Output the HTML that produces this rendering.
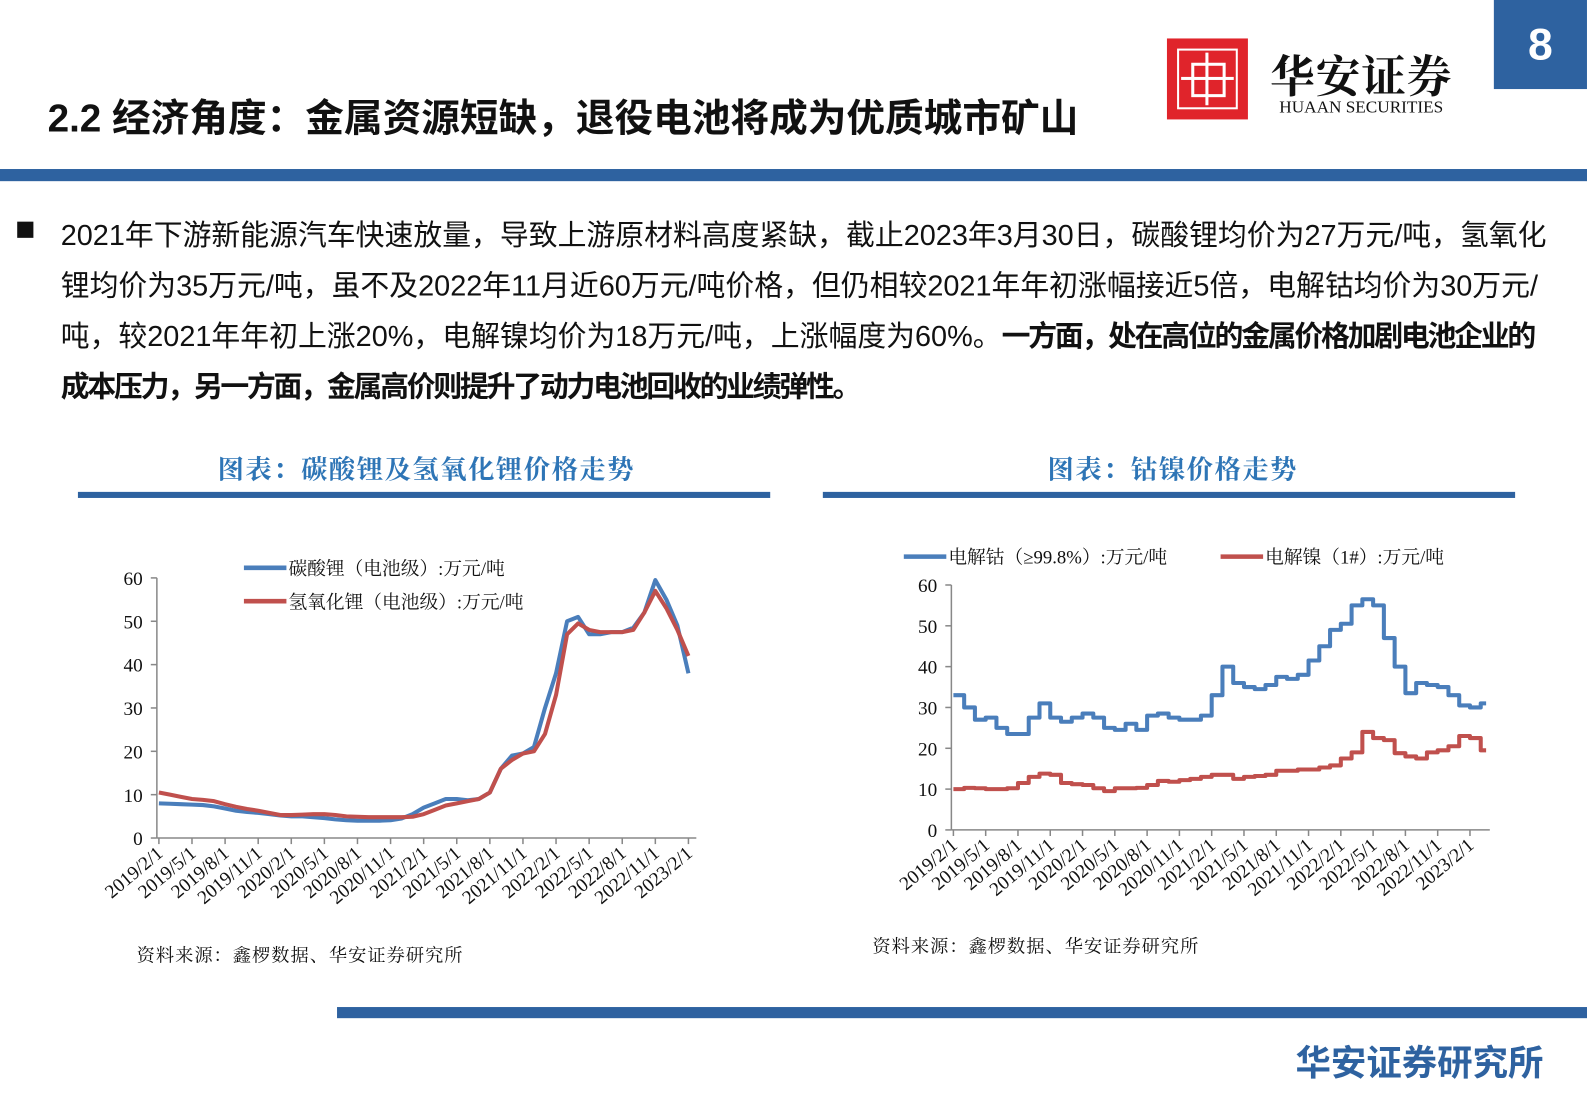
<!DOCTYPE html>
<html><head><meta charset="utf-8"><style>
body{margin:0;background:#fff;}
#page{position:relative;width:1587px;height:1099px;overflow:hidden;background:#fff;font-family:"Liberation Sans","Noto Sans CJK SC",sans-serif;}
#inner{position:absolute;left:0;top:0;width:1568px;height:1086px;transform:scale(1.0121);transform-origin:0 0;}
.abs{position:absolute;}
.body-line{position:absolute;left:60px;font-size:28.5px;color:#111;white-space:nowrap;}
.body-line b{letter-spacing:-2.2px;}
.ctitle{position:absolute;font-family:"Liberation Serif","Noto Serif CJK SC",serif;font-size:26px;font-weight:bold;color:#2e75b6;letter-spacing:1.5px;white-space:nowrap;}
</style></head><body>
<div id="page"><div id="inner">
<div class="abs" style="left:47px;top:87px;font-size:38.2px;font-weight:bold;color:#111;white-space:nowrap;">2.2 经济角度：金属资源短缺，退役电池将成为优质城市矿山</div>
<div class="abs" style="left:1153px;top:38px;width:80px;height:80px;background:#e0242b;">
<div style="position:absolute;left:10px;top:10px;width:56px;height:56px;border:2px solid #fff;"></div>
<div style="position:absolute;left:24px;top:24px;width:28px;height:28px;border:3px solid #fff;"></div>
<div style="position:absolute;left:38px;top:14px;width:3px;height:52px;background:#fff;"></div>
<div style="position:absolute;left:14px;top:38px;width:52px;height:3px;background:#fff;"></div>
</div>
<div class="abs" style="left:1255px;top:40px;font-family:'Noto Serif CJK SC',serif;font-size:44px;font-weight:bold;color:#111;letter-spacing:1px;">华安证券</div>
<div class="abs" style="left:1264px;top:96px;font-family:'Liberation Serif',serif;font-size:17px;color:#111;">HUAAN SECURITIES</div>
<div class="abs" style="left:1476px;top:0;width:92px;height:88px;background:#2e62a0;color:#fff;font-size:44px;font-weight:bold;text-align:center;line-height:90px;">8</div>
<div class="abs" style="left:0;top:167px;width:1587px;height:12px;background:#2e62a0;"></div>
<div class="abs" style="left:17px;top:219px;width:16px;height:16px;background:#111;"></div>
<div class="body-line" style="top:210px;">2021年下游新能源汽车快速放量，导致上游原材料高度紧缺，截止2023年3月30日，碳酸锂均价为27万元/吨，氢氧化</div>
<div class="body-line" style="top:260px;">锂均价为35万元/吨，虽不及2022年11月近60万元/吨价格，但仍相较2021年年初涨幅接近5倍，电解钴均价为30万元/</div>
<div class="body-line" style="top:310px;">吨，较2021年年初上涨20%，电解镍均价为18万元/吨，上涨幅度为60%。<b>一方面，处在高位的金属价格加剧电池企业的</b></div>
<div class="body-line" style="top:360px;"><b>成本压力，另一方面，金属高价则提升了动力电池回收的业绩弹性。</b></div>
<div class="ctitle" style="left:215px;top:444px;">图表：碳酸锂及氢氧化锂价格走势</div>
<div class="abs" style="left:77px;top:486px;width:684px;height:6px;background:#2e62a0;"></div>
<div class="ctitle" style="left:1035px;top:444px;">图表：钴镍价格走势</div>
<div class="abs" style="left:813px;top:486px;width:684px;height:6px;background:#2e62a0;"></div>
<svg class="abs" style="left:0;top:0" width="1587" height="1099" id="svg"></svg>
<div class="abs" style="left:135px;top:930px;font-family:'Noto Serif CJK SC',serif;font-size:18px;color:#111;letter-spacing:1px;">资料来源：鑫椤数据、华安证券研究所</div>
<div class="abs" style="left:862px;top:921px;font-family:'Noto Serif CJK SC',serif;font-size:18px;color:#111;letter-spacing:1px;">资料来源：鑫椤数据、华安证券研究所</div>
<div class="abs" style="left:333px;top:995px;width:1254px;height:11px;background:#2e62a0;"></div>
<div class="abs" style="left:1280px;top:1022px;font-size:35px;font-weight:bold;color:#2e62a0;white-space:nowrap;">华安证券研究所</div>
</div></div>
<script>
const xLabels=["2019/2/1","2019/5/1","2019/8/1","2019/11/1","2020/2/1","2020/5/1","2020/8/1","2020/11/1","2021/2/1","2021/5/1","2021/8/1","2021/11/1","2022/2/1","2022/5/1","2022/8/1","2022/11/1","2023/2/1"];
const yTicks=[0,10,20,30,40,50,60];
const li2co3=[8,7.9,7.8,7.7,7.6,7.3,6.8,6.3,6,5.8,5.5,5.2,5,5,4.8,4.6,4.3,4.1,4,4,4,4.1,4.5,5.5,7,8,9,9,8.7,9,10.5,16,19,19.5,21,30,38,50,51,47,47,47.5,47.5,48.5,52,59.5,55,49,38];
const lioh=[10.5,10,9.5,9,8.8,8.5,7.8,7.2,6.7,6.3,5.8,5.3,5.3,5.4,5.5,5.5,5.3,5,4.9,4.8,4.8,4.8,4.8,4.9,5.5,6.5,7.5,8,8.5,9,10.5,16,18,19.5,20,24,33,47,49.5,48,47.5,47.5,47.5,48,52,57,53,48,42];
const cobalt=[33,30,27,27.5,25,23.5,23.5,27.5,31,27.5,26.5,27.5,28.5,27.5,25,24.5,26,24.5,28,28.5,27.5,27,27,28,33,40,36,35,34.5,35.5,37.5,37,38,41.5,45,49,50.5,55,56.5,55,47,40,33.5,36,35.5,35,33,30.5,30,31];
const nickel=[10,10.3,10.2,10,10,10.2,11.5,13,13.8,13.5,11.5,11.2,11,10.2,9.5,10.2,10.2,10.3,11,12,11.8,12.2,12.5,13,13.5,13.5,12.5,13,13.2,13.5,14.5,14.5,14.8,14.8,15.3,15.8,17.5,19,24,22.5,22,18.8,18,17.5,19,19.5,20.5,23,22.5,19.5];
const NS="http://www.w3.org/2000/svg";
const svg=document.getElementById('svg');
function mk(t,a,p){const e=document.createElementNS(NS,t);for(const k in a)e.setAttribute(k,a[k]);(p||svg).appendChild(e);return e;}
function chart(cfg){
 const g=mk('g',{});
 
 
 const X=i=>cfg.x0+i*cfg.dx/3;
 const Y=v=>cfg.y0-v*(cfg.y0-cfg.y60)/60;
 const axisY=mk('line',{x1:cfg.x0-2,y1:Y(0),x2:cfg.x0-2,y2:Y(60),stroke:'#888','stroke-width':1.5},g);
 
 
 const axisX=mk('line',{x1:cfg.x0-2,y1:Y(0),x2:cfg.xEnd,y2:Y(0),stroke:'#888','stroke-width':1.5},g);
 
 
 yTicks.forEach(v=>{
  mk('line',{x1:cfg.x0-8,y1:Y(v),x2:cfg.x0-2,y2:Y(v),stroke:'#888','stroke-width':1.5},g);
  const t=mk('text',{x:cfg.x0-16,y:Y(v)+7,'text-anchor':'end','font-family':'Liberation Serif,serif','font-size':19,fill:'#111'},g);
  t.textContent=v;
  
  
 });
 xLabels.forEach((l,i)=>{
  const x=X(i*3);
  mk('line',{x1:x,y1:Y(0),x2:x,y2:Y(0)+6,stroke:'#888','stroke-width':1.5},g);
  const t=mk('text',{x:0,y:0,'text-anchor':'end','font-family':'Liberation Serif,serif','font-size':19,fill:'#111',transform:`translate(${x+5},${Y(0)+17}) rotate(-40)`},g);
  t.textContent=l;
  
  
 });
 cfg.series.forEach(s=>{
  let d='';
  s.data.forEach((v,i)=>{
   if(i===0){d+=`M${X(i)},${Y(v)}`;}
   else if(cfg.step){d+=`L${X(i)},${Y(s.data[i-1])}L${X(i)},${Y(v)}`;}
   else d+=`L${X(i)},${Y(v)}`;
  });
  if(cfg.step)d+=`L${X(s.data.length-1)+cfg.dx/6},${Y(s.data[s.data.length-1])}`;
  const p=mk('path',{d:d,fill:'none',stroke:s.color,'stroke-width':4,'stroke-linejoin':'round'},g);
  
  
  const lg=mk('g',{},g);
  
  
  mk('line',{x1:s.lx,y1:s.ly,x2:s.lx+42,y2:s.ly,stroke:s.color,'stroke-width':4.5},lg);
  const t=mk('text',{x:s.lx+44,y:s.ly+7,'font-family':'Liberation Serif,Noto Serif CJK SC,serif','font-size':18.5,fill:'#111'},lg);
  t.textContent=s.label;
 });
}
chart({name:'lithium-chart',x0:157,dx:32.7,y0:828,y60:571,xEnd:688,step:false,series:[
 {name:'li2co3-line',data:li2co3,color:'#4a7ebb',label:'碳酸锂（电池级）:万元/吨',lx:241,ly:561},
 {name:'lioh-line',data:lioh,color:'#c0504d',label:'氢氧化锂（电池级）:万元/吨',lx:241,ly:594}]});
chart({name:'cobalt-nickel-chart',x0:942,dx:31.9,y0:820,y60:578,xEnd:1472,step:true,series:[
 {name:'cobalt-line',data:cobalt,color:'#4a7ebb',label:'电解钴（≥99.8%）:万元/吨',lx:893,ly:550},
 {name:'nickel-line',data:nickel,color:'#c0504d',label:'电解镍（1#）:万元/吨',lx:1206,ly:550}]});
</script>
</body></html>
